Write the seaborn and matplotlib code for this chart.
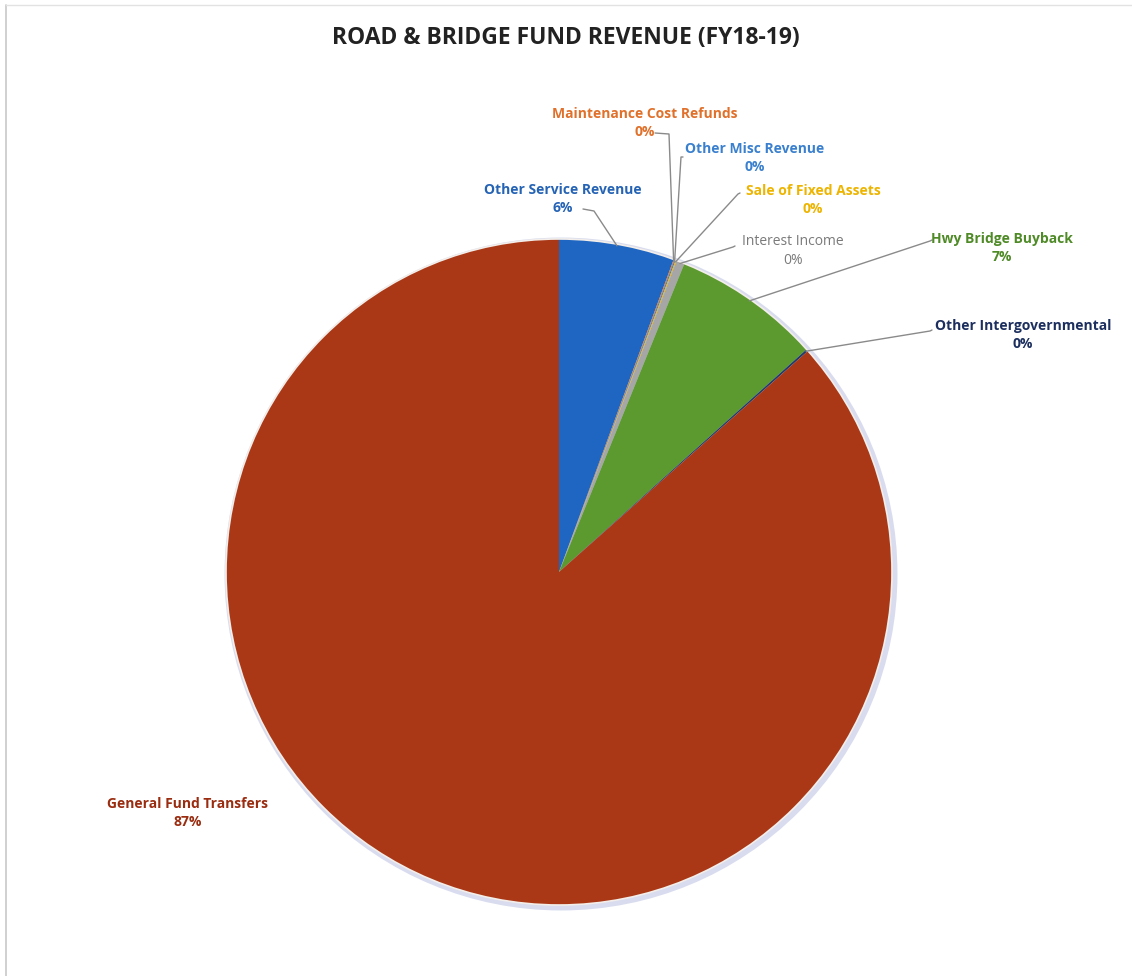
import matplotlib
matplotlib.use('Agg')
import matplotlib.pyplot as plt
import matplotlib.patches as mpatches
import numpy as np
import seaborn as sns

sns.set_theme(style='white')
plt.rcParams['font.family'] = ['Open Sans', 'DejaVu Sans']

# data (clockwise from 12 o'clock)
categories = ['Other Service Revenue', 'Maintenance Cost Refunds', 'Other Misc Revenue',
              'Sale of Fixed Assets', 'Interest Income', 'Hwy Bridge Buyback',
              'Other Intergovernmental', 'General Fund Transfers']
shares = [5.6, 0.05, 0.05, 0.05, 0.4, 7.2, 0.1, 86.6]

slice_colors = ['#1F66C2', '#E8762C', '#2F7BC8', '#F2B800', '#A6A6A6', '#5C9A30',
                '#1F3A6B', '#AA3817']
label_colors = ['#2563B5', '#E0702A', '#3A80CE', '#EDB400', '#7A7A7A', '#4E8A26',
                '#1C2F5E', '#9A2C10']
label_bold = [True, True, True, True, False, True, True, True]

# layout: label centre (px), leader start (px), elbow (px) -- None means no leader
W, H = 1132, 976
CX, CY, R = 559, 572, 333
label_pos = [(563, 199), (645, 123), (755, 158), (813, 200), (793, 251), (1002, 248),
             (1023, 335), (188, 813)]
leader_start = [(583, 209), (655, 133), (683, 157), (740, 193), (735, 246), (932, 240),
                (932, 330), None]
leader_elbow = [(594, 211), (669, 134), (681, 157), (738, 194), (733, 247), (930, 241),
                (930, 331), None]


def px(x, y):
    return ((x - CX) / R, (CY - y) / R)


fig = plt.figure(figsize=(W / 100, H / 100), dpi=100)
ax = fig.add_axes([0, 0, 1, 1])

# soft glow around the pie
ax.add_patch(mpatches.Circle((0.006, -0.006), 1.0, facecolor='#D3D7EA',
                             edgecolor='#D8DCEE', lw=5, zorder=1))

wedges, _ = ax.pie(shares, colors=slice_colors, startangle=90, counterclock=False,
                   radius=1.0, wedgeprops=dict(edgecolor='none', linewidth=0),
                   center=(0, 0), frame=True)
for w in wedges:
    w.set_zorder(2)
ax.add_patch(mpatches.Circle((0, 0), 1.0, facecolor='none', edgecolor='#F3EEEA',
                             lw=1.2, zorder=3))
ax.set_xlim((0 - CX) / R, (W - CX) / R)
ax.set_ylim((CY - H) / R, (CY - 0) / R)
ax.set_aspect('equal')
ax.axis('off')

total = sum(shares)
for i, w in enumerate(wedges):
    pct = shares[i] / total * 100
    tx, ty = px(*label_pos[i])
    weight = 'bold' if label_bold[i] else 'normal'
    ax.text(tx, ty, f'{categories[i]}\n{pct:.0f}%', ha='center', va='center',
            color=label_colors[i], fontsize=10, fontweight=weight,
            linespacing=1.35, zorder=5)
    if leader_start[i] is None:
        continue
    ang = np.deg2rad((w.theta1 + w.theta2) / 2)
    ex, ey = 0.995 * np.cos(ang), 0.995 * np.sin(ang)
    sx, sy = px(*leader_start[i])
    kx, ky = px(*leader_elbow[i])
    ax.plot([sx, kx, ex], [sy, ky, ey], color='#8A8A8A', lw=1.0, zorder=4)

fig.text(0.5, 1 - 38 / H, 'ROAD & BRIDGE FUND REVENUE (FY18-19)', ha='center',
         va='center', fontsize=16.5, fontweight='bold', color='#222222')

# faint chart-area border
fig.add_artist(plt.Line2D([6 / W, 6 / W], [0, 1 - 5 / H], color='#C8C8C8', lw=1.2))
fig.add_artist(plt.Line2D([6 / W, 1], [1 - 5 / H, 1 - 5 / H], color='#E2E2E2', lw=1.0))

fig.savefig('out.png', dpi=100)
